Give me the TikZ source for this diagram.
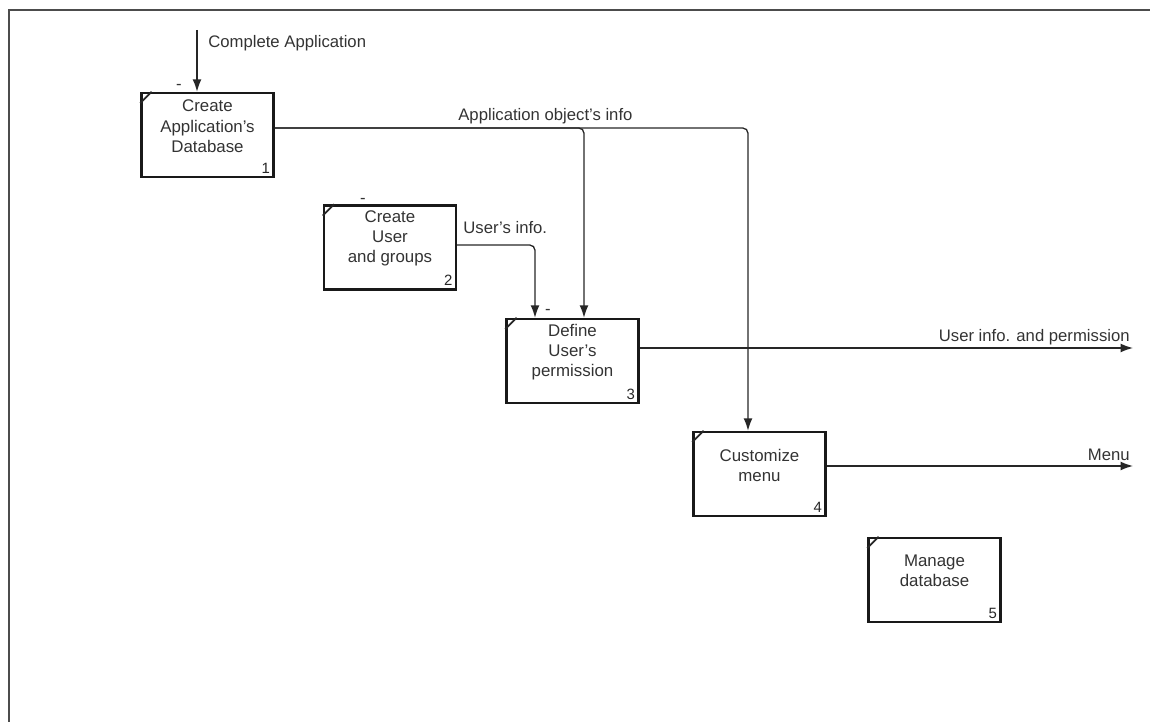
\documentclass[tikz,border=0pt]{standalone}
\usepackage{fontspec}
\setmainfont{Liberation Sans}
\usetikzlibrary{arrows.meta}

\begin{document}
\begin{tikzpicture}[x=0.02cm,y=-0.02cm,
    fnbox/.style={draw=black!90,line width=1.4pt,minimum width=2.64cm,minimum height=1.68cm,inner sep=0pt},
    fntext/.style={font=\fontsize{9.6}{11.4}\selectfont,text=black!80,align=center,inner sep=0pt},
    fnnum/.style={font=\fontsize{8.5}{9}\selectfont,text=black!85,anchor=south east,inner sep=2.5pt},
    flow/.style={line width=0.75pt,draw=black!85,-{Latex[length=7pt,width=5pt]},rounded corners=3pt},
    lbl/.style={font=\fontsize{9.5}{11}\selectfont,text=black!80,inner sep=0pt}]
        \useasboundingbox (0,0) rectangle (1150,722);
        % frame
        \draw[line width=1.2pt,black!70] (9,722) -- (9,10) -- (1150,10);
        % activity boxes
        \node[fnbox] (db) at (207.5,135) {};
        \node[fnbox] (users) at (390,247.5) {};
        \node[fnbox] (perm) at (572.5,361) {};
        \node[fnbox] (menu) at (759.5,474) {};
        \node[fnbox] (manage) at (934.5,580) {};
        \node[fntext] (dbt) at ([yshift=5pt]db.center) {Create\\Application's\\Database};
        \node[fntext] (userst) at ([yshift=5pt]users.center) {Create\\User\\and groups};
        \node[fntext] (permt) at ([yshift=5pt]perm.center) {Define\\User's\\permission};
        \node[fntext] (menut) at ([yshift=5pt]menu.center) {Customize\\menu};
        \node[fntext] (managet) at ([yshift=5pt]manage.center) {Manage\\database};
        % corner marks and numbers
        \foreach \b/\n in {db/1,users/2,perm/3,menu/4,manage/5}{
            \draw[line width=1pt,black!85] ([yshift=-6.5pt]\b.north west) -- ([xshift=6.5pt]\b.north west);
            \node[fnnum] at (\b.south east) {\n};
        }
        % small ticks above boxes 1-3
        \node[lbl] (tick1) at (179,87) {-};
        \node[lbl] (tick2) at (363,201) {-};
        \node[lbl] (tick3) at (548,312) {-};
        % end points of the arrows
        \coordinate (cin) at (197,30);
        \coordinate (j1) at (584,128);
        \coordinate (j2) at (748,128);
        \coordinate (j3) at (535,245);
        \coordinate (o1) at (1133,348);
        \coordinate (o2) at (1133,466);
        % arrows
        \draw[flow] (cin) -- (db.north -| cin);
        \draw[flow] (db.east |- j1) -| (menu.north -| j2);
        \draw[flow] (db.east |- j1) -| (perm.north -| j1);
        \draw[flow] (users.east |- j3) -| (perm.north -| j3);
        \draw[flow] (perm.east |- o1) -- (o1);
        \draw[flow] (menu.east |- o2) -- (o2);
        % arrow labels
        \node[lbl,anchor=west] (l1) at (208,43) {Complete Application};
        \node[lbl,anchor=west] (l2) at (458,116) {Application object's info};
        \node[lbl,anchor=west] (l3) at (463,228) {User's info.};
        \node[lbl,anchor=east] (l4) at (1130,337) {User info. and permission};
        \node[lbl,anchor=east] (l5) at (1130,455) {Menu};
    \end{tikzpicture}
\end{document}
